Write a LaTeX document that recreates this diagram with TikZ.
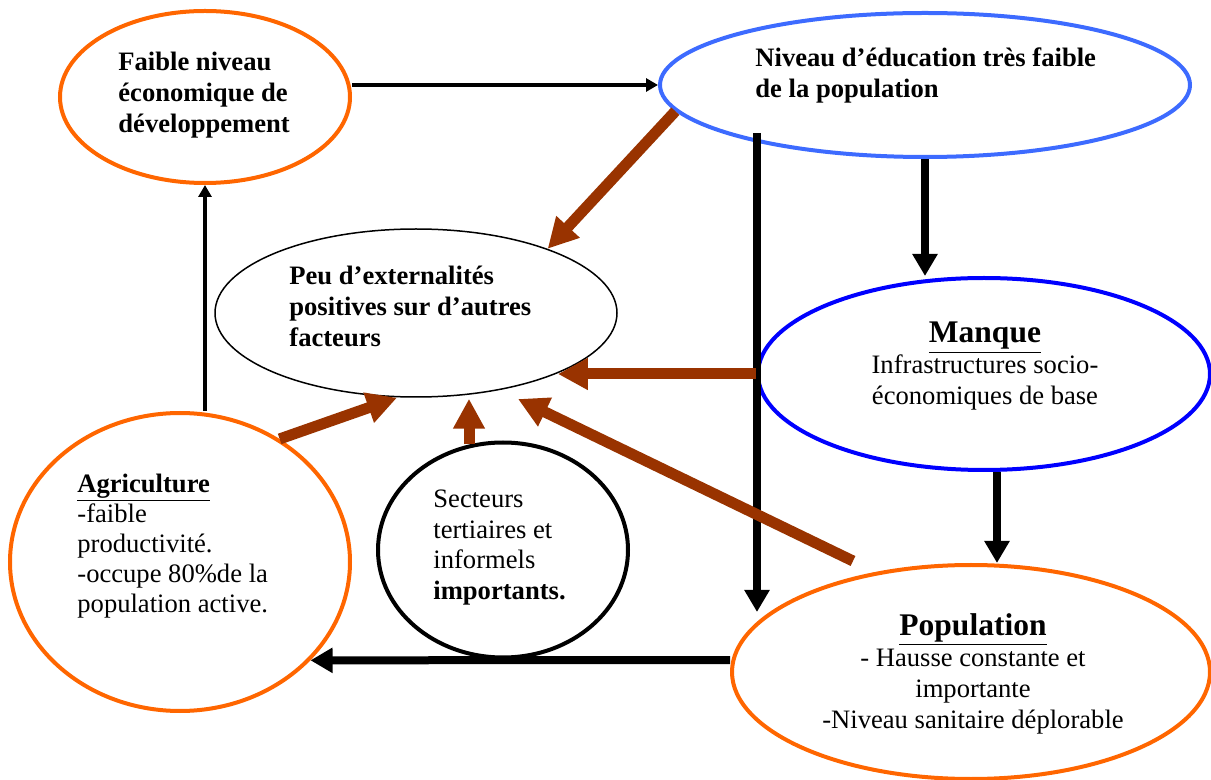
\documentclass[tikz,border=0pt]{standalone}
\usepackage{fontspec}
\setmainfont{Liberation Serif}
\usetikzlibrary{shapes.geometric,arrows.meta,calc}

\definecolor{orangeline}{RGB}{255,102,0}
\definecolor{lightblueline}{RGB}{61,107,255}
\definecolor{blueline}{RGB}{0,0,255}
\definecolor{brownline}{RGB}{153,51,0}

\tikzset{
  bubble/.style = {ellipse, draw, line width = 2pt, inner sep = 0pt},
  txt/.style = {inner sep = 0pt, font = \fontsize{13.3}{15.5}\selectfont},
  boldtxt/.style = {txt, font = \fontsize{13.3}{15.5}\selectfont\bfseries},
  slimarrow/.style = {line width = 2pt, -{Triangle[length = 6pt, width = 6.5pt]}},
  thickarrow/.style = {line width = 4pt, -{Triangle[length = 11pt, width = 12pt]}},
  pusharrow/.style = {draw = brownline, line width = 5.5pt, -{Triangle[length = 15pt, width = 15pt]}},
}

\begin{document}
\begin{tikzpicture}[x = 0.5pt, y = -0.5pt]
  \useasboundingbox (0,0) rectangle (1211,780);

  % the bubbles
  \node[bubble, draw = orangeline, minimum width = 145pt, minimum height = 86pt] (faible) at (205,97) {};
  \node[bubble, draw = lightblueline, minimum width = 265pt, minimum height = 72pt] (niveau) at (925,85) {};
  \node[bubble, line width = 0.75pt, minimum width = 201pt, minimum height = 84pt] (peu) at (416,313) {};
  \node[bubble, draw = blueline, minimum width = 226pt, minimum height = 96pt] (manque) at (984,374) {};
  \node[bubble, draw = orangeline, minimum width = 239pt, minimum height = 107pt] (pop) at (971,672) {};
  \node[bubble, draw = orangeline, minimum width = 170pt, minimum height = 149pt] (agri) at (180,562) {};
  \node[bubble, minimum width = 125pt, minimum height = 107.5pt] (sect) at (503,550) {};

  % texts (anchored on the last baseline)
  \node[boldtxt, anchor = base west, align = left] (faibletxt) at (118,133)
    {Faible niveau\\économique de\\développement};
  \node[boldtxt, anchor = base west, align = left] (niveautxt) at (755,98)
    {Niveau d’éducation très faible\\de la population};
  \node[boldtxt, anchor = base west, align = left] (peutxt) at (289,347)
    {Peu d’externalités\\positives sur d’autres\\facteurs};
  \node[txt, font = \fontsize{13.3}{15.1}\selectfont, anchor = base west, align = left] (agritxt) at (77,613)
    {\underline{\textbf{Agriculture}}\\-faible\\productivité.\\-occupe 80\%de la\\population active.};
  \node[txt, anchor = base west, align = left] (secttxt) at (433,600)
    {Secteurs\\tertiaires et\\informels\\\textbf{importants.}};
  \node[txt, anchor = base, align = center] (manquetxt) at (985,405)
    {{\fontsize{15.75}{15}\selectfont\underline{\textbf{Manque}}}\\Infrastructures socio-\\économiques de base};
  \node[txt, anchor = base, align = center] (poptxt) at (973,728)
    {{\fontsize{15.75}{15}\selectfont\underline{\textbf{Population}}}\\- Hausse constante et\\importante\\-Niveau sanitaire déplorable};

  % black links
  \draw[slimarrow] (faible.east |- niveau.west) -- (niveau.west);
  \draw[slimarrow] (faible.south |- agri.north) -- (faible.south);
  \draw[thickarrow] (niveau.south) -- (niveau.south |- manque.north);
  \draw[thickarrow] ($(niveau.center)+(-168,48)$) -- ($(pop.center)+(-214,-60)$);
  \draw[thickarrow] ($(manque.south)+(13,0)$) -- ($(pop.north)+(26,0)$);
  \draw[thickarrow] ($(pop.west)+(0,-12)$) -- (agri.-37);

  % brown links into Peu
  \draw[pusharrow] (niveau.186) -- (peu.26);
  \draw[pusharrow] (manque.west) -- (manque.west -| peu.-23);
  \draw[pusharrow] ($(pop.north)+(-118,-2)$) -- ($(peu.center)+(102,86)$);
  \draw[pusharrow] ($(sect.north)+(-34,4)$) -- ($(peu.south)+(53,1)$);
  \draw[pusharrow] (agri.51) -- ($(peu.south)+(-19,0)$);
\end{tikzpicture}
\end{document}
